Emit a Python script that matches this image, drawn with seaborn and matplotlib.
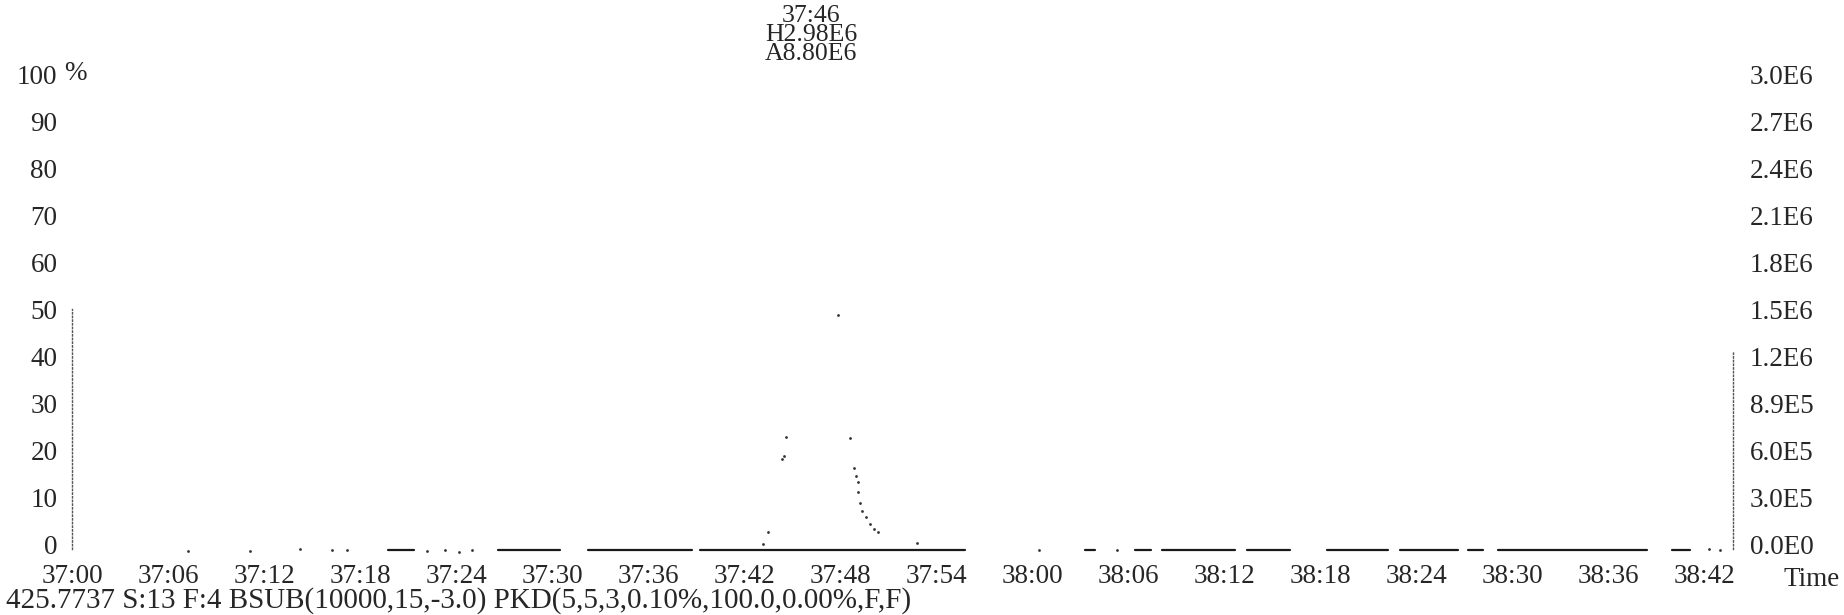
import numpy as np
import pandas as pd
import matplotlib
matplotlib.use("Agg")
import matplotlib.pyplot as plt
import seaborn as sns

baseline_seg = [1, 1, 2, 2, 3, 3, 4, 4, 5, 5, 6, 6, 7, 7, 8, 8, 9, 9, 10, 10, 11, 11, 12, 12, 13, 13]
baseline_t = [19.75, 21.4, 26.6, 30.5, 32.25, 38.75, 39.25, 55.8, 63.3, 63.9, 66.4, 67.4,
              68.1, 72.7, 73.4, 76.1, 78.4, 82.25, 83.0, 86.6, 87.25, 88.2, 89.1, 98.4, 100.0, 101.1]
baseline_v = [-1.2] * len(baseline_t)

dots_t = [7.25, 11.1, 14.25, 16.25, 17.2, 22.2, 23.3, 24.2, 25.0, 60.4, 65.3, 102.3, 103.0,
          43.2, 43.5, 44.4, 44.5, 44.6, 47.9, 48.6, 48.9, 49.0, 49.1, 49.15, 49.25, 49.4,
          49.6, 49.9, 50.1, 50.4, 52.8]
dots_v = [-1.4, -1.3, -1.0, -1.1, -1.1, -1.4, -1.2, -1.5, -1.2, -1.2, -1.1, -1.0, -1.1,
          0.2, 2.6, 18.1, 18.8, 22.9, 48.7, 22.6, 16.2, 14.6, 13.2, 11.1, 8.9, 7.1,
          5.8, 4.4, 3.3, 2.6, 0.3]

x_ticks = list(range(0, 103, 6))
x_labels = ["37:00", "37:06", "37:12", "37:18", "37:24", "37:30", "37:36", "37:42", "37:48",
            "37:54", "38:00", "38:06", "38:12", "38:18", "38:24", "38:30", "38:36", "38:42"]
y_ticks = list(range(0, 101, 10))
y_left_labels = ["0", "10", "20", "30", "40", "50", "60", "70", "80", "90", "100"]
y_right_labels = ["0.0E0", "3.0E5", "6.0E5", "8.9E5", "1.2E6", "1.5E6", "1.8E6",
                  "2.1E6", "2.4E6", "2.7E6", "3.0E6"]

peak_label = "37:46\nH2.98E6\nA8.80E6"
footer = "425.7737 S:13 F:4 BSUB(10000,15,-3.0) PKD(5,5,3,0.10%,100.0,0.00%,F,F)"

sns.set_theme(style="white")
plt.rcParams['font.family'] = ['Liberation Serif', 'DejaVu Serif']
FS = 19.5

W, H = 1844, 615
fig = plt.figure(figsize=(W / 100, H / 100), dpi=100, facecolor="white")
# eixo: x de 72 a 1733 px; y: 0% em 544.5 px, 4.705 px por %
ax = fig.add_axes([72 / W, 1 - 558.6 / H, (1733 - 72) / W, (558.6 - 55.2) / H])
ax.set_facecolor("white")

df_base = pd.DataFrame({'t': baseline_t, 'v': baseline_v, 'seg': baseline_seg})
sns.lineplot(data=df_base, x='t', y='v', units='seg', estimator=None, color='#1a1a1a',
             lw=1.6, ax=ax, legend=False)
df_dots = pd.DataFrame({'t': dots_t, 'v': dots_v})
sns.scatterplot(data=df_dots, x='t', y='v', color='#333333', s=4, linewidth=0, ax=ax, legend=False)

ax.set_xlim(0, 103.8)
ax.set_ylim(-3, 104)
ax.set_xticks(x_ticks)
ax.set_xticklabels(x_labels, fontsize=FS)
ax.set_yticks(y_ticks)
ax.set_yticklabels(y_left_labels, fontsize=FS)
ax.tick_params(axis='both', length=0)
ax.tick_params(axis='x', pad=4)
ax.tick_params(axis='y', pad=10.5)
ax.set_xlabel("")
ax.set_ylabel("")

ax2 = ax.twinx()
ax2.set_ylim(-3, 104)
ax2.set_yticks(y_ticks)
ax2.set_yticklabels(y_right_labels, fontsize=FS)
ax2.tick_params(axis='y', length=0, pad=12)

for a in (ax, ax2):
    for s in a.spines.values():
        s.set_visible(False)
ax.spines['left'].set_visible(True)
ax.spines['left'].set_linestyle(':')
ax.spines['left'].set_color('#555555')
ax.spines['left'].set_linewidth(1.0)
ax.spines['left'].set_bounds(-1, 50)
ax2.spines['right'].set_visible(True)
ax2.spines['right'].set_linestyle(':')
ax2.spines['right'].set_color('#555555')
ax2.spines['right'].set_linewidth(1.0)
ax2.spines['right'].set_bounds(-1, 41)

fig.text(64 / W, 1 - 73 / H, "%", fontsize=FS, ha='left', va='center')
fig.text(1812 / W, 1 - 579 / H, "Time", fontsize=FS, ha='center', va='center')
# rótulo do pico: três linhas bem juntas
fig.text(811 / W, 1 - 35 / H, peak_label, fontsize=18.5, ha='center', va='center',
         linespacing=0.8, multialignment='center')
fig.text(6 / W, 1 - 601 / H, footer, fontsize=21, ha='left', va='center')

fig.savefig("out.png", dpi=100, facecolor="white")
plt.close(fig)
